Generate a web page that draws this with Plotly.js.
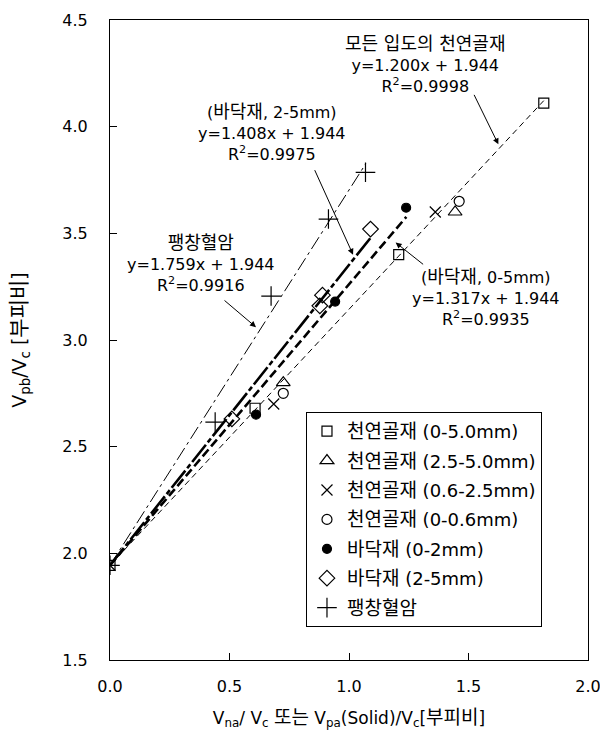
<!DOCTYPE html>
<html>
<head>
<meta charset="utf-8">
<script src="https://cdn.plot.ly/plotly-3.0.1.min.js"></script>
<style>html,body{margin:0;padding:0;background:#fff;}#chart{width:600px;height:735px;}</style>
</head>
<body>
<div id="chart"></div>
<script>
// ---- data ----
const seriesNames = ['천연골재 (0-5.0mm)', '천연골재 (2.5-5.0mm)', '천연골재 (0.6-2.5mm)', '천연골재 (0-0.6mm)', '바닥재 (0-2mm)', '바닥재 (2-5mm)', '팽창혈암'];
const natural05_x = [0, 0.607, 1.208, 1.815];
const natural05_y = [1.944, 2.68, 3.40, 4.11];
const natural255_x = [1.444, 0.725];
const natural255_y = [3.60, 2.80];
const natural0625_x = [0, 0.685, 1.361];
const natural0625_y = [1.944, 2.70, 3.60];
const natural006_x = [0.725, 1.461];
const natural006_y = [2.75, 3.65];
const bottom02_x = [0.611, 0.942, 1.239];
const bottom02_y = [2.65, 3.18, 3.62];
const bottom25_x = [0.51, 0.878, 0.889, 1.09];
const bottom25_y = [2.63, 3.16, 3.21, 3.52];
const shale_x = [0, 0.44, 0.674, 0.914, 1.069];
const shale_y = [1.944, 2.615, 3.206, 3.567, 3.786];
// regression lines: slope, intercept, x range
const fitSlopes = [1.200, 1.317, 1.408, 1.759];
const fitIntercept = 1.944;
const fitXmax = [1.815, 1.24, 1.09, 1.07];
const fitR2 = ['0.9998', '0.9935', '0.9975', '0.9916'];
const fitLabels = ['모든 입도의 천연골재', '(바닥재, 0-5mm)', '(바닥재, 2-5mm)', '팽창혈암'];

const FONT = 'DejaVu Sans, "Noto Sans CJK KR", sans-serif';
function kr(s, size) { // enlarge Hangul runs to match reference glyph widths
  return s.replace(/([\uAC00-\uD7A3][\uAC00-\uD7A3 ]*[\uAC00-\uD7A3]|[\uAC00-\uD7A3])/g, '<span style="font-size:' + size + 'px">$1</span>');
}
const traces = [];
const fitStyles = [
  {width: 1, dash: '6px,4px'},
  {width: 2.6, dash: '9px,4px'},
  {width: 2.6, dash: '22px,3px,5px,3px'},
  {width: 1, dash: '14px,4px,3px,4px'}
];
fitSlopes.forEach((m, i) => {
  traces.push({
    x: [0, fitXmax[i]],
    y: [fitIntercept, fitIntercept + m * fitXmax[i]],
    mode: 'lines', showlegend: false, hoverinfo: 'skip',
    line: {color: '#000', width: fitStyles[i].width, dash: fitStyles[i].dash}
  });
});
const markerDefs = [
  [natural05_x, natural05_y, 'square-open', 10],
  [natural255_x, natural255_y, 'triangle-up-open', 12],
  [natural0625_x, natural0625_y, 'x-thin-open', 11],
  [natural006_x, natural006_y, 'circle-open', 10],
  [bottom02_x, bottom02_y, 'circle', 9],
  [bottom25_x, bottom25_y, 'diamond-open', 12],
  [shale_x, shale_y, 'cross-thin-open', 14]
];
markerDefs.forEach((d, i) => {
  traces.push({
    x: d[0], y: d[1], mode: 'markers', name: kr(seriesNames[i], 19), legendgroup: 'g' + i,
    marker: {symbol: d[2], size: d[3], color: '#000', line: {color: '#000', width: 1.2}}
  });
});

function ann(text, x, y) {
  return {text: text, x: x, y: y, xref: 'x', yref: 'y', showarrow: false,
    xanchor: 'center', yanchor: 'middle', align: 'center',
    font: {family: FONT, size: 16, color: '#000'}};
}
function arrow(x, y, ax, ay) {
  return {text: '', x: x, y: y, ax: ax, ay: ay, xref: 'x', yref: 'y', showarrow: true,
    arrowhead: 2, arrowsize: 1.2, arrowwidth: 1, arrowcolor: '#000', standoff: 0, startstandoff: 0};
}
function eq(i) {
  return kr(fitLabels[i], 18) + '<br>y=' + fitSlopes[i].toFixed(3) + 'x + ' + fitIntercept.toFixed(3) + '<br>R<sup>2</sup>=' + fitR2[i];
}
const annotations = [
  ann(eq(0), 1.317, 4.293),
  ann(eq(2), 0.679, 3.975),
  ann(eq(3), 0.379, 3.357),
  ann(eq(1), 1.575, 3.200),
  arrow(1.625, 3.917, -25, -51),
  arrow(1.017, 3.40, -39, -86),
  arrow(0.611, 3.06, -33, -28),
  arrow(1.195, 3.457, 29, 23)
];

const layout = {
  width: 600, height: 735,
  margin: {l: 110, r: 12, t: 20, b: 75},
  paper_bgcolor: '#fff', plot_bgcolor: '#fff',
  font: {family: FONT, size: 16, color: '#000'},
  xaxis: {
    range: [0, 2], tickvals: [0, 0.5, 1, 1.5, 2], ticktext: ['0.0', '0.5', '1.0', '1.5', '2.0'],
    ticks: 'inside', ticklen: 7, tickcolor: '#000', ticklabelstandoff: 12, ticklabeloverflow: 'allow',
    showline: true, linecolor: '#000', linewidth: 1, mirror: true, showgrid: false, zeroline: false,
    tickfont: {family: FONT, size: 16},
    title: {text: 'V<sub>na</sub>/ V<sub>c</sub> ' + kr('또는', 19) + ' V<sub>pa</sub>(Solid)/V<sub>c</sub>[' + kr('부피비', 19) + ']', font: {family: FONT, size: 17}, standoff: 16}
  },
  yaxis: {
    range: [1.5, 4.5], tickvals: [1.5, 2, 2.5, 3, 3.5, 4, 4.5], ticktext: ['1.5', '2.0', '2.5', '3.0', '3.5', '4.0', '4.5'],
    ticks: 'inside', ticklen: 7, tickcolor: '#000', ticklabelstandoff: 18,
    showline: true, linecolor: '#000', linewidth: 1, mirror: true, showgrid: false, zeroline: false,
    tickfont: {family: FONT, size: 16},
    title: {text: 'V<sub>pb</sub>/V<sub>c</sub> [' + kr('부피비', 21) + ']', font: {family: FONT, size: 19}, standoff: 30}
  },
  showlegend: true,
  legend: {x: 0.41, y: 0.3875, xanchor: 'left', yanchor: 'top', bordercolor: '#000', borderwidth: 1,
    bgcolor: '#fff', font: {family: FONT, size: 18}, tracegroupgap: 3, itemwidth: 30},
  annotations: annotations
};
Plotly.newPlot('chart', traces, layout, {displayModeBar: false, staticPlot: true});
</script>
</body>
</html>
